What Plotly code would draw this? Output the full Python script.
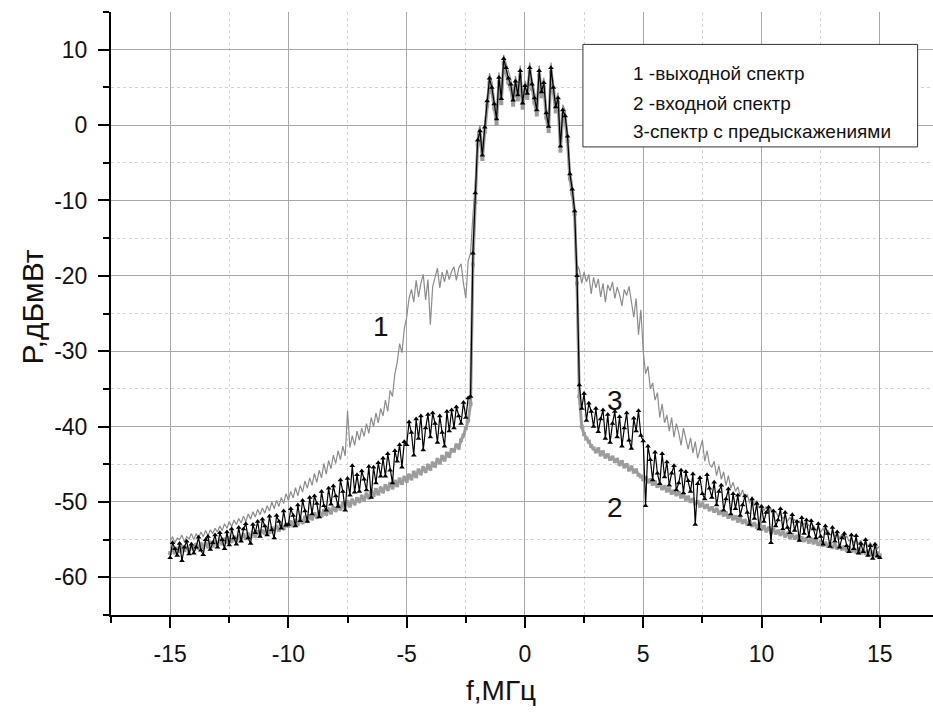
import numpy as np
import plotly.graph_objects as go

# Frequency grid, MHz (step 0.1 from -15 to 15)
freq = np.round(np.arange(-150, 151) / 10.0, 1)

# 1 - output spectrum, dBm
out_spec = [
    -55.2, -54.6, -55.4, -54.8, -55.0, -54.4, -55.3, -54.6, -54.9, -54.2,
    -55.0, -54.2, -54.8, -54.0, -54.6, -53.8, -54.5, -53.7, -54.2, -53.5,
    -54.0, -53.2, -53.8, -52.9, -53.5, -52.6, -53.3, -52.4, -53.0, -52.2,
    -52.8, -51.9, -52.6, -51.6, -52.3, -51.3, -52.0, -51.0, -51.7, -50.8,
    -51.5, -50.5, -51.2, -50.0, -50.9, -49.8, -50.6, -49.4, -50.2, -48.9,
    -49.8, -48.6, -49.5, -48.1, -49.2, -47.8, -48.7, -47.2, -48.2, -46.8,
    -47.8, -46.2, -47.4, -45.8, -46.8, -44.9, -46.3, -44.5, -45.6, -43.8,
    -44.9, -43.2, -44.4, -42.6, -43.9, -37.9, -42.8, -41.2, -42.5, -40.6,
    -41.8, -40.2, -41.3, -39.6, -40.9, -38.8, -40.0, -38.2, -39.5, -37.6,
    -38.6, -36.5, -38.0, -35.2, -36.0, -33.0, -31.5, -29.0, -30.2, -27.0,
    -25.5, -23.0, -21.8, -23.5, -20.6, -22.8, -21.0, -19.8, -23.2, -20.5,
    -26.5, -21.4, -20.2, -19.0, -21.6, -19.5, -20.8, -19.2, -20.5, -19.4,
    -18.8, -20.6, -19.0, -18.4, -21.0, -23.0, -18.0, -17.0, -12.0, -7.8,
    -1.2, 0.0, -3.2, 0.4, 3.9, 6.9, 5.8, 3.5, 1.6, 7.0,
    4.2, 9.3, 8.2, 6.9, 6.1, 4.0, 6.5, 4.8, 7.9, 3.7,
    5.9, 5.0, 8.3, 6.1, 4.3, 2.8, 7.9, 5.1, 6.3, 2.4,
    0.5, 8.3, 5.7, 3.1, 4.3, -2.0, 2.7, 1.9, -0.8, -5.8,
    -7.8, -10.5, -18.5, -19.2, -21.0, -19.5, -20.8, -19.8, -22.4, -20.2,
    -21.6, -20.4, -22.8, -21.0, -23.5, -21.2, -22.0, -20.8, -23.0, -21.5,
    -22.5, -24.0, -21.8, -22.6, -21.4, -23.2, -25.5, -23.0, -27.8, -24.5,
    -30.0, -33.0, -32.0, -35.0, -34.2, -36.5, -35.5, -38.8, -37.0, -39.5,
    -38.5, -40.6, -38.8, -41.4, -39.6, -40.8, -42.5, -40.2, -41.8, -43.0,
    -41.5, -43.5, -42.0, -44.2, -43.0, -41.8, -44.6, -43.2, -45.0, -45.4,
    -44.6, -46.5, -45.2, -47.0, -46.0, -47.8, -46.5, -48.2, -47.4, -48.6,
    -48.0, -49.2, -48.4, -49.6, -49.0, -50.2, -49.3, -50.5, -49.8, -50.8,
    -50.3, -51.2, -50.6, -51.5, -50.9, -51.8, -51.2, -52.0, -51.5, -52.2,
    -51.8, -52.6, -52.0, -52.8, -52.3, -53.0, -52.5, -53.2, -52.8, -53.4,
    -53.0, -53.6, -53.1, -53.8, -53.4, -54.0, -53.5, -54.2, -53.7, -54.4,
    -54.0, -54.6, -54.1, -54.8, -54.3, -55.0, -54.5, -55.2, -54.8, -55.4,
    -55.0, -55.6, -55.1, -55.8, -55.2, -55.9, -55.4, -56.0, -55.5, -56.2,
    -55.8,
]

# 2 - input spectrum, dBm
in_spec = [
    -56.8, -56.3, -56.7, -56.2, -56.5, -56.0, -56.4, -56.1, -56.5, -55.9,
    -56.2, -55.7, -56.1, -55.6, -56.0, -55.5, -55.9, -55.4, -55.8, -55.3,
    -55.6, -55.1, -55.5, -55.0, -55.3, -54.8, -55.2, -54.7, -55.0, -54.6,
    -54.9, -54.4, -54.8, -54.3, -54.6, -54.1, -54.5, -54.0, -54.3, -53.9,
    -54.1, -53.6, -54.0, -53.5, -53.8, -53.3, -53.7, -53.1, -53.5, -53.0,
    -53.2, -52.7, -53.1, -52.5, -52.9, -52.3, -52.7, -52.1, -52.5, -51.9,
    -52.2, -51.6, -52.0, -51.4, -51.8, -51.2, -51.6, -51.0, -51.4, -50.8,
    -51.1, -50.5, -50.9, -50.2, -50.7, -50.0, -50.5, -49.8, -50.2, -49.6,
    -49.9, -49.3, -49.7, -49.0, -49.4, -48.7, -49.1, -48.4, -48.9, -48.2,
    -48.6, -47.9, -48.3, -47.6, -48.1, -47.3, -47.8, -47.0, -47.5, -46.8,
    -47.2, -46.5, -46.9, -46.1, -46.6, -45.8, -46.2, -45.5, -45.9, -45.2,
    -45.6, -44.9, -45.2, -44.4, -44.8, -44.0, -44.4, -43.6, -43.9, -43.1,
    -43.2, -42.5, -42.8, -41.8, -41.2, -40.2, -39.2, -37.0, -18.5, -10.2,
    -2.6, -1.4, -4.5, -0.9, 2.6, 5.6, 4.4, 2.2, 0.2, 5.7,
    2.9, 8.2, 7.0, 5.6, 4.8, 2.7, 5.2, 3.4, 6.6, 2.3,
    4.6, 3.6, 7.0, 4.8, 3.0, 1.4, 6.6, 3.8, 5.0, 1.0,
    -0.8, 7.0, 4.4, 1.8, 3.0, -3.4, 1.4, 0.6, -2.1, -7.1,
    -9.1, -11.8, -21.0, -36.0, -40.0, -41.0, -41.6, -42.0, -42.6, -42.9,
    -43.3, -43.0, -43.7, -43.4, -44.0, -43.8, -44.3, -44.1, -44.6, -44.4,
    -45.0, -44.7, -45.3, -45.1, -45.7, -45.4, -46.0, -45.8, -46.4, -46.6,
    -47.0, -46.8, -47.3, -47.1, -47.6, -47.4, -47.9, -47.7, -48.2, -48.0,
    -48.5, -48.3, -48.8, -48.6, -49.0, -48.8, -49.3, -49.1, -49.6, -49.4,
    -49.9, -49.7, -50.2, -50.0, -50.5, -50.3, -50.7, -50.5, -51.0, -50.8,
    -51.2, -51.0, -51.5, -51.3, -51.7, -51.5, -52.0, -51.8, -52.2, -52.0,
    -52.5, -52.2, -52.7, -52.5, -52.9, -52.7, -53.1, -52.9, -53.3, -53.1,
    -53.6, -53.3, -53.8, -53.5, -54.0, -53.7, -54.1, -53.9, -54.3, -54.1,
    -54.5, -54.2, -54.7, -54.4, -54.8, -54.6, -55.0, -54.8, -55.1, -54.9,
    -55.3, -55.0, -55.4, -55.2, -55.6, -55.3, -55.7, -55.5, -55.8, -55.6,
    -56.0, -55.7, -56.1, -55.9, -56.2, -56.0, -56.4, -56.1, -56.5, -56.3,
    -56.6, -56.3, -56.7, -56.5, -56.8, -56.6, -56.9, -56.7, -57.0, -56.8,
    -57.1,
]

# 3 - spectrum with predistortion, dBm
pre_spec = [
    -57.4, -55.4, -56.2, -57.1, -55.5, -57.8, -56.0, -55.2, -56.9, -55.6,
    -56.8, -56.0, -54.7, -56.4, -57.0, -55.0, -54.6, -56.3, -55.4, -54.4,
    -56.0, -54.1, -55.0, -56.2, -54.0, -55.7, -53.6, -54.8, -55.6, -53.4,
    -55.2, -53.6, -52.9, -54.8, -55.5, -53.0, -54.1, -52.6, -54.6, -52.3,
    -53.2, -54.4, -51.9, -53.7, -54.8, -51.8, -52.6, -53.5, -51.2, -53.1,
    -53.0, -50.9, -51.8, -53.2, -50.4, -52.5, -49.8, -51.2, -52.6, -49.4,
    -51.6, -49.2, -50.2, -52.0, -48.6, -50.5, -51.1, -48.2, -50.3, -47.9,
    -49.2, -50.6, -47.1, -48.6, -51.1, -46.9, -49.1, -45.2, -48.7, -46.4,
    -48.6, -45.9, -47.0, -48.4, -45.3, -49.4, -45.4, -47.5, -44.8, -46.6,
    -44.2, -46.6, -43.6, -45.8, -47.5, -43.2, -44.6, -42.4, -45.4, -42.0,
    -42.4, -39.4, -40.8, -43.8, -39.0, -41.6, -38.6, -43.1, -40.2, -38.4,
    -41.4, -38.2, -39.6, -42.1, -38.6, -40.8, -42.6, -38.0, -40.6, -37.8,
    -40.2, -37.4, -38.6, -39.6, -36.8, -38.8, -36.2, -36.0, -17.0, -9.0,
    -2.0, -0.8, -4.0, -0.3, 3.2, 6.2, 5.0, 2.8, 0.8, 6.3,
    3.5, 8.8, 7.6, 6.2, 5.4, 3.3, 5.8, 4.0, 7.2, 2.9,
    5.2, 4.2, 7.6, 5.4, 3.6, 2.0, 7.2, 4.4, 5.6, 1.6,
    -0.2, 7.6, 5.0, 2.4, 3.6, -2.8, 2.0, 1.2, -1.5, -6.5,
    -8.5, -11.4, -20.0, -34.5, -37.6, -35.6, -39.2, -36.9, -38.0, -40.0,
    -37.6, -40.7, -39.0, -37.8, -41.6, -38.4, -42.1, -39.6, -38.0, -41.4,
    -38.7, -42.6, -40.2, -38.2, -41.8, -42.9, -38.9, -40.6, -37.9, -41.2,
    -41.9, -50.5, -42.6, -44.4, -47.1, -43.4, -46.2, -47.6, -43.6, -46.7,
    -44.7, -47.8, -46.2, -45.2, -48.4, -47.5, -45.8, -48.8, -46.0, -47.2,
    -48.6, -46.3, -53.0, -47.6, -46.8, -48.9, -49.6, -46.4, -48.2, -49.4,
    -47.4, -50.4, -48.6, -47.8, -51.1, -49.6, -48.3, -51.6, -48.9, -50.9,
    -49.1, -51.8, -50.4, -49.2, -51.4, -53.0, -49.6, -52.2, -50.2, -53.6,
    -50.6, -52.6, -51.4, -50.7, -55.4, -51.2, -53.2, -52.4, -50.9, -53.6,
    -51.4, -53.4, -54.1, -51.7, -53.8, -52.6, -55.1, -52.1, -54.2, -52.4,
    -54.6, -52.5, -53.6, -54.8, -52.9, -54.6, -55.6, -53.2, -54.2, -55.9,
    -53.4, -55.2, -54.0, -56.0, -54.8, -54.2, -55.8, -56.6, -54.4, -56.2,
    -54.5, -56.8, -55.5, -56.6, -55.0, -57.1, -55.8, -57.5, -55.6, -57.2,
    -57.4,
]

x_ticks = [-15, -10, -5, 0, 5, 10, 15]
y_ticks = [-60, -50, -40, -30, -20, -10, 0, 10]
legend_lines = ["1 -выходной спектр", "2 -входной спектр", "3-спектр с предыскажениями"]
curve_tags = [("1", -6.1, -26.7), ("3", 3.8, -36.5), ("2", 3.8, -50.7)]

FONT = "Liberation Sans, Arial, sans-serif"
INK = "#111111"

fig = go.Figure()
fig.add_trace(go.Scatter(
    x=freq, y=out_spec, mode="lines",
    line=dict(color="#8c8c8c", width=1.2), showlegend=False))
fig.add_trace(go.Scatter(
    x=freq, y=in_spec, mode="lines+markers",
    line=dict(color="#9c9c9c", width=3),
    marker=dict(symbol="square", size=4, color="#9c9c9c"), showlegend=False))
fig.add_trace(go.Scatter(
    x=freq, y=pre_spec, mode="lines+markers",
    line=dict(color="#000000", width=1.2),
    marker=dict(symbol="triangle-up", size=5, color="#000000"), showlegend=False))

# Text-only legend box
fig.add_shape(type="rect", xref="x", yref="y", x0=2.45, x1=16.6, y0=-2.9, y1=10.7,
              line=dict(color="#333333", width=1), fillcolor="white", layer="above")
for txt, yv in zip(legend_lines, [6.8, 2.85, -0.9]):
    fig.add_annotation(x=4.5, y=yv, xref="x", yref="y", text=txt, showarrow=False,
                       xanchor="left", yanchor="middle",
                       font=dict(family=FONT, size=19, color=INK))

for tag, xv, yv in curve_tags:
    fig.add_annotation(x=xv, y=yv, xref="x", yref="y", text=tag, showarrow=False,
                       font=dict(family=FONT, size=28, color=INK))

# Axis titles
fig.add_annotation(x=0.475, y=-0.125, xref="paper", yref="paper", text="f,МГц",
                   showarrow=False, xanchor="center", yanchor="middle",
                   font=dict(family=FONT, size=28, color=INK))
fig.add_annotation(x=-0.096, y=0.51, xref="paper", yref="paper", text="P,дБмВт",
                   textangle=-90, showarrow=False, xanchor="center", yanchor="middle",
                   font=dict(family=FONT, size=30, color=INK))

axis_common = dict(
    showline=True, linecolor="#000000", linewidth=2, mirror=False,
    ticks="outside", ticklen=11, tickwidth=2, tickcolor="#000000",
    showgrid=True, gridcolor="#a8a8a8", gridwidth=1, zeroline=False,
    tickfont=dict(family=FONT, size=23, color=INK),
    ticklabelstandoff=6,
)

fig.update_xaxes(
    range=[-17.5, 17.25], tickmode="array", tickvals=x_ticks,
    ticktext=[str(v) for v in x_ticks],
    minor=dict(dtick=2.5, tick0=0, ticks="outside", ticklen=6, tickwidth=2,
               tickcolor="#000000", showgrid=True, gridcolor="#d4d4d4",
               griddash="3px,3px", gridwidth=1),
    **axis_common)
fig.update_yaxes(
    range=[-65, 15], tickmode="array", tickvals=y_ticks,
    ticktext=[str(v) for v in y_ticks],
    minor=dict(dtick=5, tick0=0, ticks="outside", ticklen=6, tickwidth=2,
               tickcolor="#000000", showgrid=True, gridcolor="#d4d4d4",
               griddash="3px,3px", gridwidth=1),
    **axis_common)

fig.update_layout(
    width=933, height=722,
    margin=dict(l=111, r=0, t=12, b=107),
    paper_bgcolor="white", plot_bgcolor="white",
    font=dict(family=FONT),
)

fig.write_html("out.html")
